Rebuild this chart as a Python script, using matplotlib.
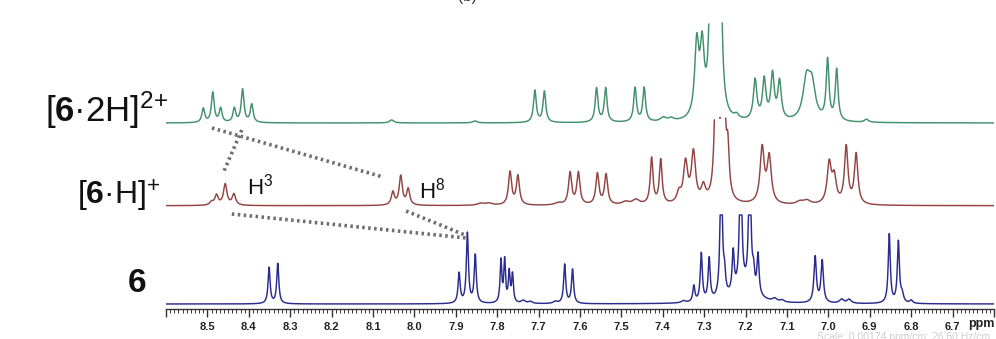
import numpy as np
import matplotlib
matplotlib.use("Agg")
import matplotlib.pyplot as plt
from matplotlib.ticker import MultipleLocator, FixedLocator

plt.rcParams['font.family'] = ['Liberation Sans', 'DejaVu Sans']
plt.rcParams['mathtext.fontset'] = 'custom'
plt.rcParams['mathtext.rm'] = 'Liberation Sans'
plt.rcParams['mathtext.bf'] = 'Liberation Sans:bold'
plt.rcParams['mathtext.it'] = 'Liberation Sans:italic'

# ---------------- data (chemical shift ppm, peak height, half width) ----------------
shifts_6 = [8.351, 8.330, 7.892, 7.872, 7.853, 7.791, 7.782, 7.771, 7.763, 7.737,
            7.720, 7.660, 7.637, 7.618, 7.350, 7.325, 7.307, 7.288, 7.259, 7.251,
            7.230, 7.212, 7.190, 7.181, 7.170, 7.205, 7.130, 7.112, 7.032, 7.015,
            6.968, 6.950, 6.853, 6.831, 6.822, 6.800]
heights_6 = [36, 40, 30, 70, 48, 42, 42, 30, 28, 3,
             2, 2, 39, 34, 2, 16, 48, 42, 150, 20,
             40, 150, 150, 18, 40, 15, 3, 2, 46, 42,
             4, 4, 69, 61, 8, 3]
widths_6 = [0.003, 0.003, 0.003, 0.003, 0.003, 0.0025, 0.0025, 0.0025, 0.0025, 0.006,
            0.006, 0.006, 0.003, 0.003, 0.006, 0.003, 0.003, 0.003, 0.003, 0.003,
            0.003, 0.003, 0.003, 0.003, 0.003, 0.03, 0.006, 0.006, 0.0035, 0.0035,
            0.006, 0.006, 0.003, 0.003, 0.004, 0.004]

shifts_6H = [8.490, 8.478, 8.457, 8.436, 8.052, 8.033, 8.015, 7.840, 7.820, 7.769,
             7.750, 7.653, 7.624, 7.604, 7.558, 7.537, 7.490, 7.465, 7.427, 7.405,
             7.361, 7.345, 7.326, 7.302, 7.270, 7.254, 7.243, 7.160, 7.143, 7.069,
             7.052, 6.998, 6.986, 6.957, 6.933]
heights_6H = [3, 10, 21, 11, 13, 29, 16, 2, 2, 33,
              29, 2, 32, 32, 31, 30, 3, 5, 46, 44,
              10, 40, 50, 15, 220, 200, 45, 55, 46, 3,
              4, 40, 25, 57, 50]
widths_6H = [0.005, 0.005, 0.005, 0.005, 0.0045, 0.0045, 0.0045, 0.01, 0.01, 0.0045,
             0.0045, 0.01, 0.0045, 0.0045, 0.0045, 0.0045, 0.01, 0.01, 0.004, 0.004,
             0.006, 0.006, 0.006, 0.006, 0.004, 0.004, 0.004, 0.006, 0.006, 0.01,
             0.01, 0.006, 0.006, 0.005, 0.005]

shifts_62H = [8.510, 8.487, 8.468, 8.435, 8.415, 8.393, 8.055, 7.854, 7.709, 7.686,
              7.560, 7.538, 7.467, 7.445, 7.399, 7.380, 7.318, 7.305, 7.283, 7.272,
              7.262, 7.222, 7.177, 7.155, 7.135, 7.118, 7.053, 7.040, 7.002, 6.980,
              6.908]
heights_62H = [14, 30, 14, 14, 33, 18, 3, 2, 32, 31,
               34, 34, 34, 34, 4, 3, 72, 66, 200, 150,
               200, 4, 40, 40, 45, 38, 38, 34, 60, 51,
               3]
widths_62H = [0.004, 0.004, 0.004, 0.004, 0.004, 0.004, 0.006, 0.006, 0.004, 0.004,
              0.004, 0.004, 0.004, 0.004, 0.008, 0.008, 0.006, 0.006, 0.0045, 0.0045,
              0.0045, 0.006, 0.005, 0.005, 0.005, 0.005, 0.01, 0.01, 0.004, 0.004,
              0.006]

# dotted correlation lines: (ppm_start, level_start, ppm_end, level_end) in axis units
connectors = [
    (8.489, 181, 8.076, 132),
    (8.417, 179, 8.462, 136),
    (8.441, 95, 7.875, 71),
    (8.020, 98, 7.878, 74),
]

tick_values = [8.6, 8.5, 8.4, 8.3, 8.2, 8.1, 8.0, 7.9, 7.8, 7.7, 7.6, 7.5, 7.4,
               7.3, 7.2, 7.1, 7.0, 6.9, 6.8, 6.7, 6.6]
tick_labels = ['', '8.5', '8.4', '8.3', '8.2', '8.1', '8.0', '7.9', '7.8', '7.7', '7.6',
               '7.5', '7.4', '7.3', '7.2', '7.1', '7.0', '6.9', '6.8', '6.7', '']

# ---------------- figure ----------------
W, H = 996, 339
fig = plt.figure(figsize=(W / 100, H / 100), dpi=100)
fig.patch.set_facecolor('white')

def fx(x):
    return x / W

def fy(y):
    return 1 - y / H

ax = fig.add_axes([fx(166), fy(309), fx(994) - fx(166), fy(0) - fy(309)])
ax.set_xlim(8.6, 6.6)
ax.set_ylim(0, 309)

grid = np.linspace(8.6, 6.6, 8001)

def spectrum(shifts, heights, widths):
    y = np.zeros_like(grid)
    for s, h, w in zip(shifts, heights, widths):
        y += h / (1 + ((grid - s) / w) ** 2)
    return y

traces = [
    (shifts_6, heights_6, widths_6, 5, 89, '#2b2b8e', 'flat'),
    (shifts_6H, heights_6H, widths_6H, 103.3, 88, '#924444', 'gap'),
    (shifts_62H, heights_62H, widths_62H, 186, 101, '#42906e', 'gap'),
]
for s, h, w, off, clip, col, mode in traces:
    y = spectrum(s, h, w)
    if mode == 'flat':
        y = np.minimum(y, clip)
    else:
        y = np.where(y > clip, np.nan, y)
    ax.plot(grid, off + y, color=col, lw=1.05, solid_joinstyle='round')

for x0, y0, x1, y1 in connectors:
    ax.plot([x0, x1], [y0, y1], color='#6e6e6e', lw=2.6,
            linestyle=(0, (0.7, 0.95)), dash_capstyle='butt')

for side in ['left', 'right', 'top']:
    ax.spines[side].set_visible(False)
ax.spines['bottom'].set_color('#333333')
ax.spines['bottom'].set_linewidth(1.0)
ax.set_yticks([])
ax.xaxis.set_major_locator(FixedLocator(tick_values))
ax.set_xticklabels(tick_labels)
ax.xaxis.set_minor_locator(MultipleLocator(0.01))
ax.tick_params(axis='x', which='major', direction='out', length=6, width=1.0,
               color='#333333', pad=3.5, labelsize=8, labelcolor='#222222')
ax.tick_params(axis='x', which='minor', direction='out', length=3, width=0.7,
               color='#333333')
for lab in ax.get_xticklabels():
    lab.set_fontweight('bold')
ax.patch.set_alpha(0)

# ---------------- labels ----------------
fig.text(fx(45), fy(122), r'[$\mathbf{6}$·2H]$^{2{+}}$', fontsize=25, ha='left',
         va='baseline', color='#111111')
fig.text(fx(77), fy(205), r'[$\mathbf{6}$·H]$^{+}$', fontsize=23, ha='left',
         va='baseline', color='#111111')
fig.text(fx(128), fy(292), '6', fontsize=24, fontweight='bold', ha='left',
         va='baseline', color='#111111')
fig.text(fx(247), fy(195), r'H$^{3}$', fontsize=16, ha='left', va='baseline',
         color='#111111')
fig.text(fx(419), fy(198), r'H$^{8}$', fontsize=16, ha='left', va='baseline',
         color='#111111')
fig.text(fx(981), fy(327.5), 'ppm', fontsize=9, fontweight='bold', ha='center',
         va='baseline', color='#222222')
fig.text(fx(467), fy(1), '(b)', fontsize=11, ha='center', va='baseline',
         color='#333333')
fig.text(fx(817), fy(332), 'Scale: 0.00174 ppm/cm; 26.60 Hz/cm', fontsize=7.5,
         ha='left', va='top', color='#cfcfcf')

fig.savefig('out.png', dpi=100, facecolor='white')
